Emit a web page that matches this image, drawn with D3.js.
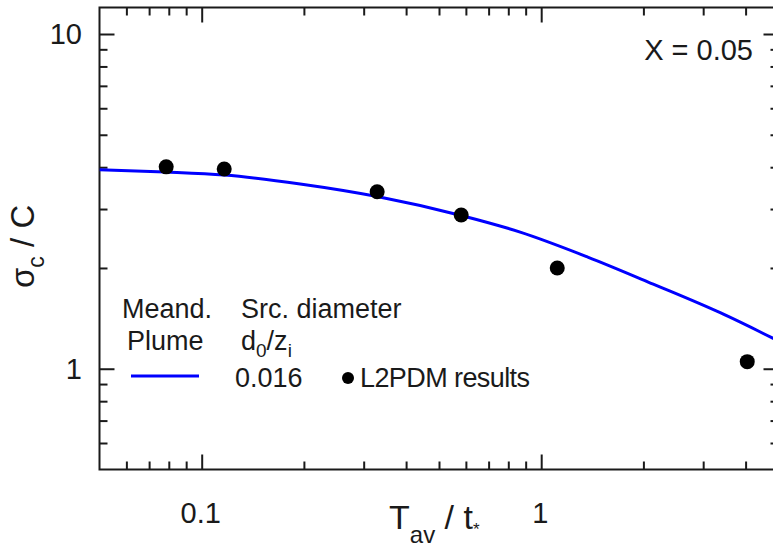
<!DOCTYPE html>
<html>
<head>
<meta charset="utf-8">
<script src="https://cdn.jsdelivr.net/npm/d3@7"></script>
<style>
  html, body { margin: 0; padding: 0; background: #fff; }
  svg { display: block; font-family: "Liberation Sans", Arial, Helvetica, sans-serif; }
</style>
</head>
<body>
<svg id="chart" width="773" height="547"></svg>
<script>
// L2PDM simulation results (averaging time vs. normalised concentration fluctuation)
const tavResults = [0.0786, 0.1165, 0.3287, 0.5813, 1.115, 4.045];
const sigmaResults = [4.01, 3.95, 3.38, 2.88, 2.00, 1.05];

// Meandering plume model curve, source diameter d0/zi = 0.016
const tavModel = [0.05, 0.078, 0.1165, 0.195, 0.3287, 0.5813, 0.867, 1.366, 2.138, 3.367, 5.0];
const sigmaModel = [3.93, 3.87, 3.79, 3.565, 3.27, 2.87, 2.56, 2.16, 1.79, 1.47, 1.21];

// Axis ticks
const xMajorTicks = [0.1, 1];
const xMajorLabels = ["0.1", "1"];
const xMinorTicks = [0.06, 0.07, 0.08, 0.09, 0.2, 0.3, 0.4, 0.5, 0.6, 0.7, 0.8, 0.9, 2, 3, 4];
const yMajorTicks = [1, 10];
const yMajorLabels = ["1", "10"];
const yMinorTicks = [0.6, 0.7, 0.8, 0.9, 2, 3, 4, 5, 6, 7, 8, 9];

const svg = d3.select("#chart");
const ink = "#1a1a1a";

const plotLeft = 99.5, plotRight = 778.5, plotTop = 7.5, plotBottom = 469.5;
const x = d3.scaleLog().domain([0.05, 5]).range([plotLeft, plotRight]);
const y = d3.scaleLog().domain([0.5, 12]).range([plotBottom, plotTop]);

function styleAxis(g) {
  g.select(".domain").remove();
  g.selectAll(".tick line").attr("stroke", ink).attr("stroke-width", 2);
  g.selectAll(".tick text").remove();
}

// Inward ticks on all four sides
const axes = [
  [d3.axisBottom, `translate(0,${plotBottom})`, x, xMajorTicks, -15],
  [d3.axisBottom, `translate(0,${plotBottom})`, x, xMinorTicks, -8],
  [d3.axisTop, `translate(0,${plotTop})`, x, xMajorTicks, -15],
  [d3.axisTop, `translate(0,${plotTop})`, x, xMinorTicks, -8],
  [d3.axisLeft, `translate(${plotLeft},0)`, y, yMajorTicks, -15],
  [d3.axisLeft, `translate(${plotLeft},0)`, y, yMinorTicks, -8],
  [d3.axisRight, `translate(${plotRight},0)`, y, yMajorTicks, -15],
  [d3.axisRight, `translate(${plotRight},0)`, y, yMinorTicks, -8]
];
axes.forEach(([fn, tr, sc, vals, size]) => {
  svg.append("g").attr("transform", tr)
    .call(fn(sc).tickValues(vals).tickSize(size).tickFormat(""))
    .call(styleAxis);
});

// Frame
svg.append("rect")
  .attr("x", plotLeft).attr("y", plotTop)
  .attr("width", plotRight - plotLeft).attr("height", plotBottom - plotTop)
  .attr("fill", "none").attr("stroke", ink).attr("stroke-width", 2);

// Tick labels
svg.selectAll(".xlab").data(xMajorTicks).join("text")
  .attr("x", d => x(d) - 1).attr("y", 523)
  .attr("text-anchor", "middle").attr("font-size", 29).attr("fill", ink)
  .text((d, i) => xMajorLabels[i]);

svg.selectAll(".ylab").data(yMajorTicks).join("text")
  .attr("x", 82).attr("y", d => y(d) + 10)
  .attr("text-anchor", "end").attr("font-size", 29).attr("fill", ink)
  .text((d, i) => yMajorLabels[i]);

// Model curve
svg.append("clipPath").attr("id", "plot-clip")
  .append("rect").attr("x", plotLeft).attr("y", plotTop)
  .attr("width", plotRight - plotLeft).attr("height", plotBottom - plotTop);

const line = d3.line()
  .x(d => x(d[0])).y(d => y(d[1]))
  .curve(d3.curveMonotoneX);

svg.append("path")
  .datum(tavModel.map((t, i) => [t, sigmaModel[i]]))
  .attr("clip-path", "url(#plot-clip)")
  .attr("d", line)
  .attr("fill", "none").attr("stroke", "#0000ff").attr("stroke-width", 3);

// Simulation points
svg.selectAll(".pt").data(tavResults).join("circle")
  .attr("cx", d => x(d))
  .attr("cy", (d, i) => y(sigmaResults[i]))
  .attr("r", 7.5).attr("fill", "#000");

// Panel annotation
svg.append("text").attr("x", 753).attr("y", 60)
  .attr("text-anchor", "end").attr("font-size", 29).attr("fill", ink)
  .text("X = 0.05");

// Legend
const lg = svg.append("g").attr("font-size", 27).attr("fill", ink);
lg.append("text").attr("x", 122).attr("y", 318).text("Meand.");
lg.append("text").attr("x", 127).attr("y", 350).text("Plume");
lg.append("text").attr("x", 241).attr("y", 318).text("Src. diameter");
const dz = lg.append("text").attr("x", 241).attr("y", 350);
dz.append("tspan").text("d");
dz.append("tspan").attr("font-size", 19).attr("dy", 7).text("0");
dz.append("tspan").attr("dy", -7).text("/z");
dz.append("tspan").attr("font-size", 19).attr("dy", 7).text("i");
lg.append("line").attr("x1", 131).attr("x2", 199).attr("y1", 376).attr("y2", 376)
  .attr("stroke", "#0000ff").attr("stroke-width", 3);
lg.append("text").attr("x", 235).attr("y", 387).text("0.016");
lg.append("circle").attr("cx", 348).attr("cy", 378).attr("r", 6).attr("fill", "#000");
lg.append("text").attr("x", 360).attr("y", 387).attr("textLength", 170).text("L2PDM results");

// Axis titles
const xt = svg.append("text").attr("x", 389).attr("y", 529)
  .attr("font-size", 34).attr("fill", ink);
xt.append("tspan").text("T");
xt.append("tspan").attr("font-size", 24).attr("dy", 14).text("av");
xt.append("tspan").attr("dy", -14).text(" / t");
xt.append("tspan").attr("font-size", 17).attr("dy", 6).text("*");

const yt = svg.append("text")
  .attr("transform", "translate(34,288) rotate(-90)")
  .attr("font-size", 33).attr("fill", ink);
yt.append("tspan").text("σ");
yt.append("tspan").attr("font-size", 23).attr("dy", 10).text("c");
yt.append("tspan").attr("dy", -10).text(" / C");
</script>
</body>
</html>
